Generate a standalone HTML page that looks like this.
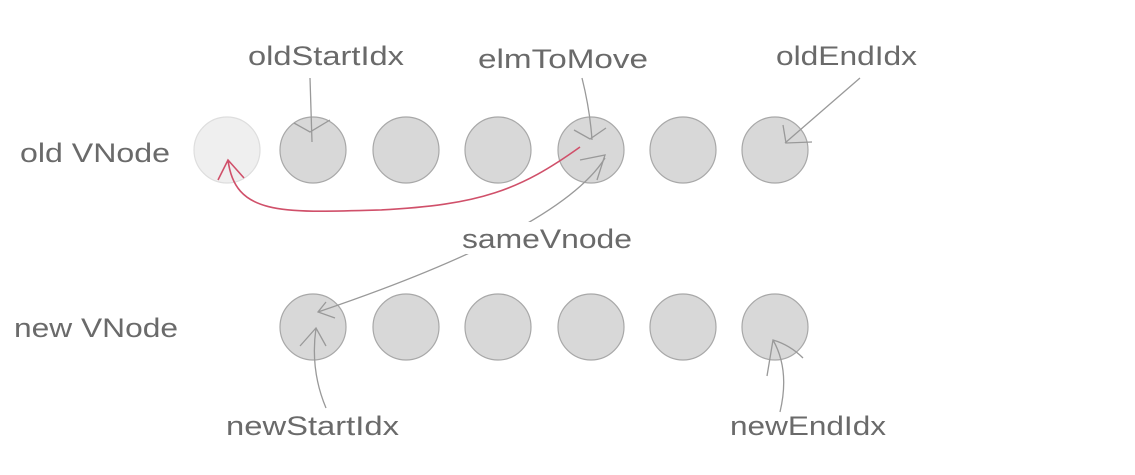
<!DOCTYPE html>
<html><head><meta charset="utf-8"><style>
html,body{margin:0;padding:0;background:#fff;}
svg{display:block}
text{font-family:"Liberation Sans",sans-serif;font-size:27px;fill:#6a6a6a;}
</style></head><body>
<svg width="1135" height="475" viewBox="0 0 1135 475">
<g stroke="#a8a8a8" stroke-width="1.2" fill="#d8d8d8">
<circle cx="227" cy="150" r="33" fill="#efefef" stroke="#dedede"/>
<circle cx="313" cy="150" r="33"/>
<circle cx="406" cy="150" r="33"/>
<circle cx="498" cy="150" r="33"/>
<circle cx="591" cy="150" r="33"/>
<circle cx="683" cy="150" r="33"/>
<circle cx="775" cy="150" r="33"/>
<circle cx="313" cy="327" r="33"/>
<circle cx="406" cy="327" r="33"/>
<circle cx="498" cy="327" r="33"/>
<circle cx="591" cy="327" r="33"/>
<circle cx="683" cy="327" r="33"/>
<circle cx="775" cy="327" r="33"/>
</g>
<g stroke="#999" stroke-width="1.3" fill="none">
<path d="M310 78 L312 142 M294 123 L310 132 L330 120"/>
<path d="M582 78 Q590 110 592 140 M574 130 L590 139 L606 128"/>
<path d="M860 78 L785 143 M783 125 L786 143 L812 142"/>
<path d="M605 158 Q560 230 318 312 M326 302 L318 312 L335 318"/>
<path d="M580 160 L605 155 L597 180"/>
<path d="M326 408 Q310 370 316 328 M300 346 L316 328 L326 346"/>
<path d="M780 412 Q790 370 773 340 M767 376 L773 340 Q790 345 803 358"/>
</g>
<path d="M580 147 C520 190 480 205 380 210 C280 213 235 215 228 160 M218 180 L228 160 L244 178" stroke="#d0506a" stroke-width="1.6" fill="none"/>
<text x="20" y="162" textLength="150" lengthAdjust="spacingAndGlyphs">old VNode</text>
<text x="14" y="337" textLength="164" lengthAdjust="spacingAndGlyphs">new VNode</text>
<text x="248" y="65" textLength="156" lengthAdjust="spacingAndGlyphs">oldStartIdx</text>
<text x="478" y="68" textLength="170" lengthAdjust="spacingAndGlyphs">elmToMove</text>
<text x="776" y="65" textLength="141" lengthAdjust="spacingAndGlyphs">oldEndIdx</text>
<rect x="460" y="222" width="174" height="32" fill="#fff"/>
<text x="462" y="248" textLength="170" lengthAdjust="spacingAndGlyphs">sameVnode</text>
<text x="226" y="435" textLength="173" lengthAdjust="spacingAndGlyphs">newStartIdx</text>
<text x="730" y="435" textLength="156" lengthAdjust="spacingAndGlyphs">newEndIdx</text>
</svg>
</body></html>
